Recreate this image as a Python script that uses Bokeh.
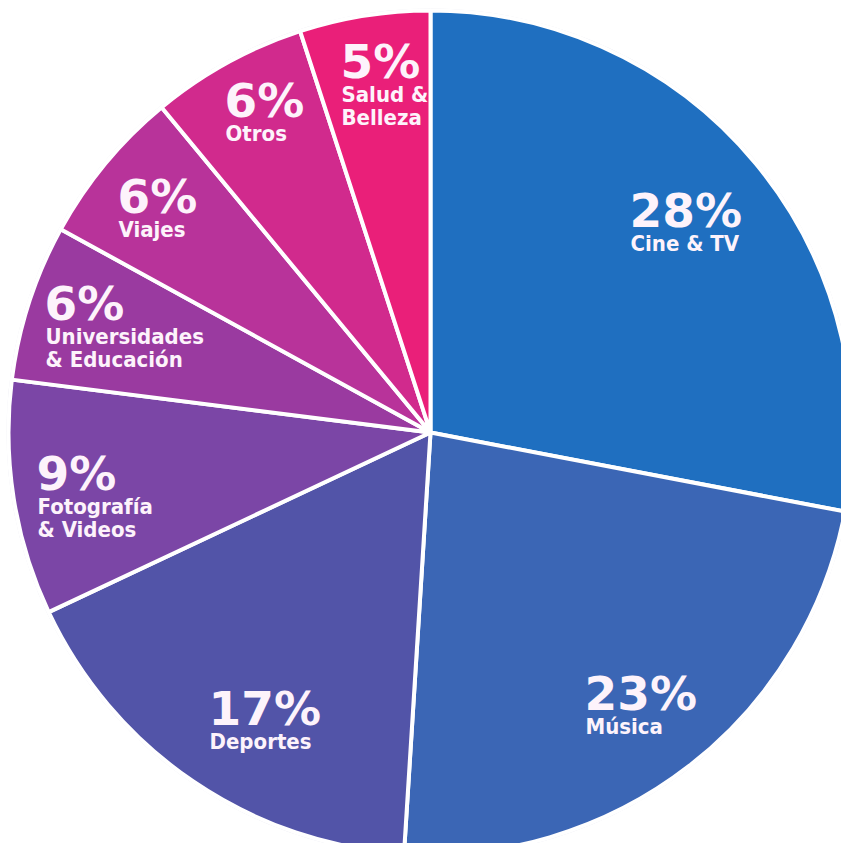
import numpy as np
from bokeh.plotting import figure
from bokeh.models import Range1d, ColumnDataSource
from bokeh.core.properties import value
from bokeh.embed import file_html
from bokeh.resources import INLINE

categories = ["Cine & TV", "Música", "Deportes", "Fotografía\n& Videos",
              "Universidades\n& Educación", "Viajes", "Otros", "Salud &\nBelleza"]
percents = [28, 23, 17, 9, 6, 6, 6, 5]
colors = ["#1f6fc0", "#3b66b5", "#5254a8", "#7b46a6", "#9a3aa0",
          "#b8339a", "#d12a8d", "#ea1f79"]

# layout: label anchors (left / glyph top in picture pixels)
label_pos = [(629, 192), (584, 675), (208, 690), (36, 455),
             (44, 285), (117, 178), (224, 82), (340, 43)]

W, H = 841, 843
CX, CY, R = 430, 432, 422

p = figure(width=W, height=H, output_backend="svg", toolbar_location=None,
           x_range=Range1d(0, W), y_range=Range1d(-H, 0),
           min_border=0)
p.axis.visible = False
p.grid.visible = False
p.outline_line_color = None
p.background_fill_color = "white"
p.border_fill_color = "white"

vals = np.array(percents, dtype=float)
frac = vals / vals.sum()
ends = np.pi / 2 - 2 * np.pi * np.concatenate([[0], np.cumsum(frac)[:-1]])
starts = ends - 2 * np.pi * frac

src = ColumnDataSource(dict(start=starts, end=ends, color=colors))
p.circle(x=[CX], y=[-CY], radius=R + 2, fill_color="#e9e9f0", line_color=None)
p.wedge(x=CX, y=-CY, radius=R, start_angle="start", end_angle="end",
        fill_color="color", line_color="white", line_width=4, source=src)

TXT = "#fdf3fb"
for (lx, ly), pct, cat in zip(label_pos, percents, categories):
    p.text(x=[lx], y=[-(ly - 10)], text=[f"{pct}%"], text_color=TXT,
           text_font=value("DejaVu Sans"), text_font_style="bold",
           text_font_size="47px", text_baseline="top", text_align="left")
    lines = cat.split("\n")
    for i, ln in enumerate(lines):
        p.text(x=[lx + 1], y=[-(ly + 38 + i * 23)], text=[ln], text_color=TXT,
               text_font=value("DejaVu Sans Condensed"), text_font_style="bold",
               text_font_size="22px", text_baseline="top", text_align="left")

open("out.html", "w").write(file_html(p, INLINE))
